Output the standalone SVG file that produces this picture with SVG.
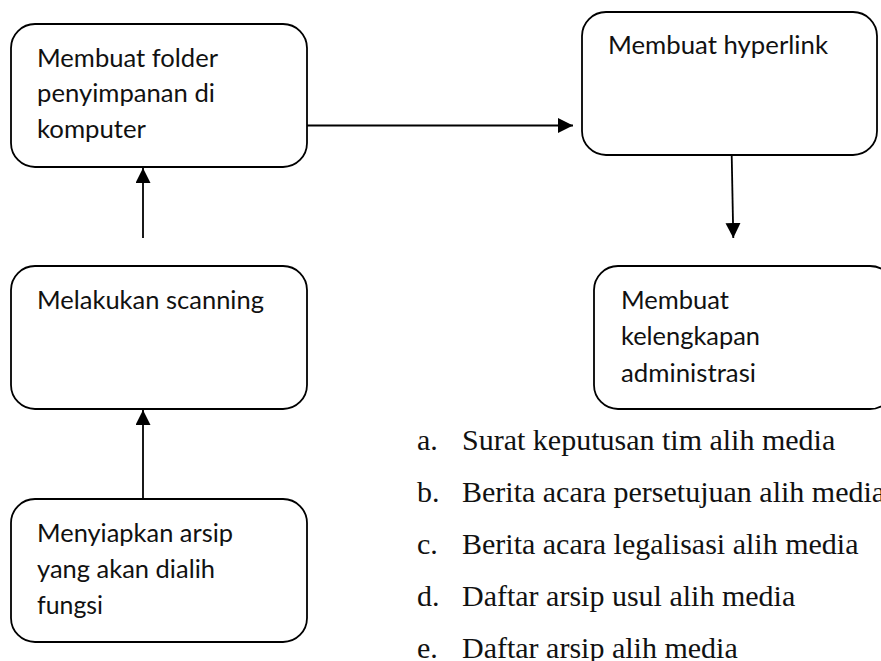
<svg xmlns="http://www.w3.org/2000/svg" width="881" height="661" viewBox="0 0 881 661">
<style>
.box{fill:#fff;stroke:#000;stroke-width:1.8}
.t{font-family:Lato,"Open Sans","Liberation Sans",sans-serif;font-size:24.5px;fill:#111}
.l{font-family:"Liberation Serif","Times New Roman",serif;font-size:30px;fill:#111}
.c{stroke:#000;stroke-width:1.8;fill:none;marker-end:url(#ah)}
</style>
<defs>
<marker id="ah" markerUnits="userSpaceOnUse" markerWidth="16" markerHeight="16" refX="15" refY="7.5" orient="auto">
<path d="M0,0 L15,7.5 L0,15 Z" fill="#000"/>
</marker>
</defs>
<rect width="881" height="661" fill="#fff"/>
<g id="connectors">
<line class="c" x1="307" y1="125.5" x2="573" y2="125.5"/>
<line class="c" x1="731.7" y1="155" x2="733.3" y2="238"/>
<line class="c" x1="143" y1="238" x2="143" y2="168"/>
<line class="c" x1="143" y1="499" x2="143" y2="410"/>
</g>
<g id="n1">
<rect class="box" x="11" y="24" width="296" height="143" rx="24"/>
<text class="t" x="37" y="67" textLength="181" lengthAdjust="spacingAndGlyphs">Membuat folder</text>
<text class="t" x="37" y="102" textLength="178" lengthAdjust="spacingAndGlyphs">penyimpanan di</text>
<text class="t" x="37" y="138" textLength="109" lengthAdjust="spacingAndGlyphs">komputer</text>
</g>
<g id="n2">
<rect class="box" x="582" y="12" width="295" height="143" rx="24"/>
<text class="t" x="608" y="54" textLength="220" lengthAdjust="spacingAndGlyphs">Membuat hyperlink</text>
</g>
<g id="n3">
<rect class="box" x="11" y="266" width="296" height="143" rx="24"/>
<text class="t" x="37" y="309" textLength="227" lengthAdjust="spacingAndGlyphs">Melakukan scanning</text>
</g>
<g id="n4">
<rect class="box" x="11" y="499" width="296" height="143" rx="24"/>
<text class="t" x="37" y="542" textLength="196" lengthAdjust="spacingAndGlyphs">Menyiapkan arsip</text>
<text class="t" x="37" y="577.5" textLength="178" lengthAdjust="spacingAndGlyphs">yang akan dialih</text>
<text class="t" x="37" y="613.5" textLength="66" lengthAdjust="spacingAndGlyphs">fungsi</text>
</g>
<g id="n5">
<rect class="box" x="594" y="266" width="300" height="143" rx="24"/>
<text class="t" x="621" y="309" textLength="108" lengthAdjust="spacingAndGlyphs">Membuat</text>
<text class="t" x="621" y="345" textLength="139" lengthAdjust="spacingAndGlyphs">kelengkapan</text>
<text class="t" x="621" y="381.5" textLength="135" lengthAdjust="spacingAndGlyphs">administrasi</text>
</g>
<g id="list">
<text class="l" x="417" y="450">a.</text><text class="l" x="462" y="450">Surat keputusan tim alih media</text>
<text class="l" x="417" y="502">b.</text><text class="l" x="462" y="502">Berita acara persetujuan alih media</text>
<text class="l" x="417" y="554">c.</text><text class="l" x="462" y="554">Berita acara legalisasi alih media</text>
<text class="l" x="417" y="606">d.</text><text class="l" x="462" y="606">Daftar arsip usul alih media</text>
<text class="l" x="417" y="658">e.</text><text class="l" x="462" y="658">Daftar arsip alih media</text>
</g>
</svg>
